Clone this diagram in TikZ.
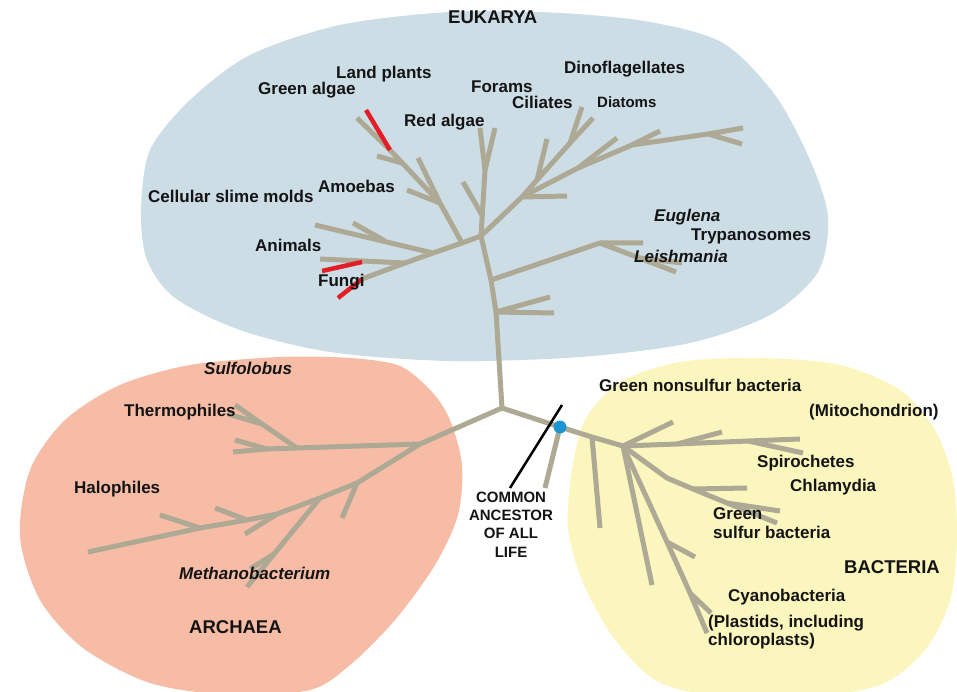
\documentclass[tikz,border=0pt]{standalone}
\usepackage{fontspec}
\setmainfont{Liberation Sans}
\definecolor{eukblue}{RGB}{204,221,230}
\definecolor{archsalmon}{RGB}{247,188,165}
\definecolor{bactyellow}{RGB}{251,246,190}
\definecolor{treegray}{RGB}{173,169,148}
\definecolor{fungired}{RGB}{228,30,38}
\definecolor{dotblue}{RGB}{28,150,208}
\definecolor{txt}{RGB}{20,20,20}
\begin{document}
\begin{tikzpicture}[x=1pt,y=-1pt,
  br/.style={draw=treegray,line width=5pt,line cap=butt,line join=round},
  rd/.style={draw=fungired,line width=4.5pt,line cap=butt},
  lbl/.style={font=\bfseries\fontsize{17}{19}\selectfont,inner sep=0pt,anchor=base west,text=txt},
  ilbl/.style={lbl,font=\bfseries\itshape\fontsize{17}{19}\selectfont},
  slbl/.style={lbl,font=\bfseries\fontsize{15}{17}\selectfont},
  dom/.style={lbl,font=\bfseries\fontsize{18.5}{21}\selectfont},
  anc/.style={font=\bfseries\fontsize{15}{17}\selectfont,inner sep=0pt,anchor=base,text=txt}]
\useasboundingbox (0,0) rectangle (957,692);
\fill[white] (0,0) rectangle (957,692);
% ---------- domain blobs ----------
\fill[eukblue] plot[smooth cycle] coordinates {(141,210) (150,150) (190,100) (250,55) (340,25) (450,12) (560,13) (650,22) (723,43) (775,95) (810,160) (828,217) (818,272) (770,315) (690,343) (580,357) (450,361) (330,352) (240,330) (175,298) (147,260)};
\fill[archsalmon] plot[smooth cycle] coordinates {(190,365) (280,357) (350,358) (400,366) (432,392) (450,420) (462,465) (458,515) (435,565) (395,620) (350,665) (310,690) (230,695) (150,683) (83,648) (40,600) (20,537) (30,470) (65,420) (120,385)};
\fill[bactyellow] plot[smooth cycle] coordinates {(585,420) (620,382) (680,362) (760,358) (840,365) (900,390) (935,430) (953,480) (957,540) (950,600) (925,650) (880,685) (800,698) (710,695) (655,680) (613,637) (582,580) (568,527) (572,470)};
% ---------- tree coordinates ----------
\coordinate (r) at (502,408);
% eukarya trunk
\coordinate (e1) at (496,312); \coordinate (e2) at (491,280); \coordinate (e3) at (481,236);
\coordinate (e1a) at (550,297); \coordinate (e1b) at (554,313);
\coordinate (eL) at (600,243); \coordinate (eLa) at (643,243); \coordinate (eLb) at (676,272);
\coordinate (eLf) at (640,258); \coordinate (eLc) at (682,263);
% red algae
\coordinate (ra) at (485,170); \coordinate (ra1) at (480,128); \coordinate (ra2) at (495,128);
\coordinate (raf) at (482,215); \coordinate (ra3) at (463,182);
% ciliates / dinoflagellates
\coordinate (b1) at (522,197); \coordinate (b1a) at (567,196);
\coordinate (c1) at (537,180); \coordinate (c1a) at (547,139);
\coordinate (c2) at (570,143); \coordinate (c2a) at (582,107); \coordinate (c2b) at (593,118);
\coordinate (d1) at (578,168); \coordinate (d1a) at (617,138);
\coordinate (d2) at (632,145); \coordinate (d2a) at (660,131);
\coordinate (d3) at (708,134); \coordinate (d3a) at (743,128); \coordinate (d3b) at (742,144);
% animals / fungi
\coordinate (f1) at (462,243); \coordinate (f2) at (433,253); \coordinate (f3) at (405,263); \coordinate (f4) at (362,279);
\coordinate (fr) at (338,298);
\coordinate (f2a) at (315,225); \coordinate (f2m) at (385,241); \coordinate (f2b) at (353,223);
\coordinate (f3a) at (320,259); \coordinate (f3m) at (362,262); \coordinate (f3r) at (322,271);
% amoebas / plants
\coordinate (g1) at (357,118); \coordinate (g2) at (390,150); \coordinate (g3) at (440,203);
\coordinate (g2r) at (366,110); \coordinate (g2m) at (402,163); \coordinate (g2a) at (377,156);
\coordinate (g3a) at (418,158); \coordinate (g3b) at (407,190);
% archaea
\coordinate (a1) at (420,444);
\coordinate (t1) at (297,448); \coordinate (t2) at (267,449); \coordinate (t3) at (233,452);
\coordinate (t2a) at (235,440); \coordinate (t4) at (262,424); \coordinate (t4a) at (235,405); \coordinate (t4b) at (228,414);
\coordinate (a2) at (357,483); \coordinate (a2a) at (342,518);
\coordinate (a3) at (320,498); \coordinate (m1) at (274,554); \coordinate (m2) at (247,587); \coordinate (m1a) at (250,569);
\coordinate (a4) at (277,514); \coordinate (a4a) at (245,534);
\coordinate (a5) at (247,520); \coordinate (a5a) at (215,508);
\coordinate (a6) at (200,528); \coordinate (a6a) at (160,515);
\coordinate (a7) at (88,552);
% bacteria
\coordinate (bd) at (560,427); \coordinate (bq) at (592,437); \coordinate (b2) at (623,446);
\coordinate (bda) at (545,488); \coordinate (bqa) at (600,528); \coordinate (b2a) at (673,422);
\coordinate (h1) at (677,444); \coordinate (h2) at (748,441); \coordinate (h3) at (800,439);
\coordinate (h1a) at (722,432); \coordinate (h2a) at (803,453);
\coordinate (k1) at (667,478); \coordinate (k2) at (693,489); \coordinate (k2a) at (747,488);
\coordinate (k3) at (727,503); \coordinate (k3a) at (780,511); \coordinate (k4) at (777,523);
\coordinate (b2d) at (652,585);
\coordinate (p1) at (667,542); \coordinate (p2) at (690,593); \coordinate (p3) at (707,633);
\coordinate (p1a) at (695,557); \coordinate (p2a) at (711,613);
\coordinate (pt1) at (562,405); \coordinate (pt2) at (510,488);
% ---------- branches ----------
\draw[br] (r) -- (e1) -- (e2) -- (e3);
\draw[br] (e1a) -- (e1) -- (e1b);
\draw[br] (e2) -- (eL) -- (eLa);
\draw[br] (eL) -- (eLb);
\draw[br] (eLf) -- (eLc);
\draw[br] (e3) -- (ra) -- (ra1);
\draw[br] (ra) -- (ra2);
\draw[br] (raf) -- (ra3);
\draw[br] (e3) -- (b1) -- (b1a);
\draw[br] (b1) -- (c1) -- (c2) -- (c2a);
\draw[br] (c2) -- (c2b);
\draw[br] (c1) -- (c1a);
\draw[br] (b1) -- (d1) -- (d2) -- (d3) -- (d3a);
\draw[br] (d3) -- (d3b);
\draw[br] (d1) -- (d1a);
\draw[br] (d2) -- (d2a);
\draw[br] (e3) -- (f1) -- (f2) -- (f3) -- (f4);
\draw[rd] (f4) -- (fr);
\draw[br] (f2) -- (f2a);
\draw[br] (f2m) -- (f2b);
\draw[br] (f3) -- (f3a);
\draw[rd] (f3m) -- (f3r);
\draw[br] (f1) -- (g3) -- (g2) -- (g1);
\draw[rd] (g2) -- (g2r);
\draw[br] (g2m) -- (g2a);
\draw[br] (g3) -- (g3a);
\draw[br] (g3) -- (g3b);
\draw[br] (r) -- (a1);
\draw[br] (a1) -- (t1) -- (t2) -- (t3);
\draw[br] (t2) -- (t2a);
\draw[br] (t1) -- (t4) -- (t4a);
\draw[br] (t4) -- (t4b);
\draw[br] (a1) -- (a2) -- (a3) -- (a4) -- (a5) -- (a6) -- (a7);
\draw[br] (a2) -- (a2a);
\draw[br] (a3) -- (m1) -- (m2);
\draw[br] (m1) -- (m1a);
\draw[br] (a4) -- (a4a);
\draw[br] (a5) -- (a5a);
\draw[br] (a6) -- (a6a);
\draw[br] (r) -- (bd) -- (bq) -- (b2);
\draw[br] (bd) -- (bda);
\draw[br] (bq) -- (bqa);
\draw[br] (b2) -- (b2a);
\draw[br] (b2) -- (h1) -- (h2) -- (h3);
\draw[br] (h1) -- (h1a);
\draw[br] (h2) -- (h2a);
\draw[br] (b2) -- (k1) -- (k2) -- (k3) -- (k4);
\draw[br] (k2) -- (k2a);
\draw[br] (k3) -- (k3a);
\draw[br] (b2) -- (b2d);
\draw[br] (b2) -- (p1) -- (p2) -- (p3);
\draw[br] (p1) -- (p1a);
\draw[br] (p2) -- (p2a);
\draw[black,line width=2.5pt] (pt1) -- (pt2);
\fill[dotblue] (bd) circle (6.5);
% ---------- labels ----------
\node[dom] (lEuk) at (448,24) {EUKARYA};
\node[lbl] (lLand) at (336,79) {Land plants};
\node[lbl] (lGreenA) at (258,95) {Green algae};
\node[lbl] (lForams) at (471,93) {Forams};
\node[lbl] (lDino) at (564,74) {Dinoflagellates};
\node[lbl] (lCil) at (512,109) {Ciliates};
\node[slbl] (lDiat) at (597,108) {Diatoms};
\node[lbl] (lRed) at (404,127) {Red algae};
\node[lbl] (lSlime) at (148,203) {Cellular slime molds};
\node[lbl] (lAmoe) at (318,193) {Amoebas};
\node[ilbl] (lEugl) at (654,222) {Euglena};
\node[lbl] (lTryp) at (691,241) {Trypanosomes};
\node[ilbl] (lLeish) at (634,262) {Leishmania};
\node[lbl] (lAnim) at (255,252) {Animals};
\node[lbl] (lFungi) at (318,287) {Fungi};
\node[ilbl] (lSulf) at (204,374) {Sulfolobus};
\node[lbl] (lTherm) at (124,416) {Thermophiles};
\node[lbl] (lHalo) at (74,493) {Halophiles};
\node[ilbl] (lMeth) at (179,579) {Methanobacterium};
\node[dom] (lArch) at (189,633) {ARCHAEA};
\node[lbl] (lGNS) at (599,391) {Green nonsulfur bacteria};
\node[lbl] (lMito) at (809,416) {(Mitochondrion)};
\node[lbl] (lSpir) at (757,467) {Spirochetes};
\node[lbl] (lChla) at (790,491) {Chlamydia};
\node[lbl] (lGS1) at (713,519) {Green};
\node[lbl] (lGS2) at (713,538) {sulfur bacteria};
\node[dom] (lBact) at (844,573) {BACTERIA};
\node[lbl] (lCyan) at (728,601) {Cyanobacteria};
\node[lbl] (lPl1) at (708,627) {(Plastids, including};
\node[lbl] (lPl2) at (708,645) {chloroplasts)};
\node[anc] (lC1) at (511,502) {COMMON};
\node[anc] (lC2) at (511,520) {ANCESTOR};
\node[anc] (lC3) at (511,538) {OF ALL};
\node[anc] (lC4) at (511,557) {LIFE};
\end{tikzpicture}
\end{document}
